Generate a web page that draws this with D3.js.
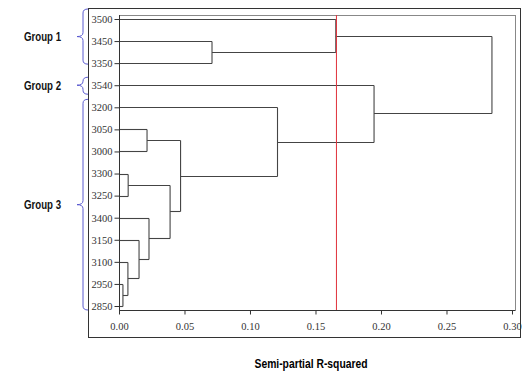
<!DOCTYPE html>
<html>
<head>
<meta charset="utf-8">
<script src="https://cdn.jsdelivr.net/npm/d3@7"></script>
<style>
  body { margin: 0; background: #fff; }
</style>
</head>
<body>
<div id="chart"></div>
<script>
// leaf order, top to bottom
const leaves = ["3500", "3450", "3350", "3540", "3200", "3050", "3000",
  "3300", "3250", "3400", "3150", "3100", "2950", "2850"];
// merges: [childA, childB, height]; "m<i>" refers to merge i
const merges = [
  ["2950", "2850", 0.003],
  ["3300", "3250", 0.007],
  ["3100", "m0", 0.0068],
  ["3150", "m2", 0.0153],
  ["3050", "3000", 0.0214],
  ["3400", "m3", 0.0229],
  ["m1", "m5", 0.039],
  ["m4", "m6", 0.047],
  ["3450", "3350", 0.071],
  ["3200", "m7", 0.121],
  ["3500", "m8", 0.1655],
  ["3540", "m9", 0.1947],
  ["m10", "m11", 0.2847],
];
const xTicks = [0, 0.05, 0.1, 0.15, 0.2, 0.25, 0.3];
const cutoff = 0.166;
const groups = [
  { name: "Group 1", first: "3500", last: "3350" },
  { name: "Group 2", first: "3540", last: "3540" },
  { name: "Group 3", first: "3200", last: "2850" },
];

const W = 527, H = 375;
const plot = { left: 119, right: 515, top: 15, bottom: 310 };
const serif = '"Liberation Serif", "DejaVu Serif", serif';
const bold = '"Liberation Sans", Arial, sans-serif';

const svg = d3.select("#chart").append("svg")
  .attr("width", W).attr("height", H);

const x = d3.scaleLinear().domain([0, 0.3023]).range([plot.left, plot.right]);
const y = d3.scalePoint().domain(leaves).range([19, 306]);

// outer frame
svg.append("rect")
  .attr("x", 88.5).attr("y", 8.5).attr("width", 432).attr("height", 329)
  .attr("fill", "none").attr("stroke", "#333").attr("stroke-width", 1);

// inner frame
svg.append("rect")
  .attr("x", plot.left + 0.5).attr("y", plot.top + 0.5)
  .attr("width", plot.right - plot.left).attr("height", plot.bottom - plot.top)
  .attr("fill", "none").attr("stroke", "#888");

// node positions
const pos = {};
leaves.forEach((l) => (pos[l] = { x: 0, y: y(l) }));
const lines = [];
merges.forEach((m, i) => {
  const a = pos[m[0]], b = pos[m[1]], h = m[2];
  lines.push([a.x, a.y, h, a.y], [b.x, b.y, h, b.y], [h, a.y, h, b.y]);
  pos["m" + i] = { x: h, y: (a.y + b.y) / 2 };
});

svg.append("g").selectAll("line").data(lines).join("line")
  .attr("x1", (d) => x(d[0])).attr("y1", (d) => Math.round(d[1]) + 0.5)
  .attr("x2", (d) => x(d[2])).attr("y2", (d) => Math.round(d[3]) + 0.5)
  .attr("stroke", "#444").attr("stroke-width", 1.1);

// cutoff line
svg.append("line")
  .attr("x1", x(cutoff)).attr("x2", x(cutoff))
  .attr("y1", plot.top).attr("y2", plot.bottom)
  .attr("stroke", "#e0303a").attr("stroke-width", 1);

// axes
const yAxis = svg.append("g")
  .attr("transform", `translate(${plot.left + 0.5},0)`)
  .call(d3.axisLeft(y).tickSize(5).tickPadding(2));
yAxis.select(".domain").attr("d", `M0,${plot.top}V${plot.bottom}`).attr("stroke", "#333");
yAxis.selectAll(".tick line").attr("stroke", "#333");

const xAxis = svg.append("g")
  .attr("transform", `translate(0,${plot.bottom + 0.5})`)
  .call(d3.axisBottom(x).tickValues(xTicks).tickFormat(d3.format(".2f")).tickSize(4).tickPadding(8));
xAxis.select(".domain").attr("d", `M${plot.left},0H${plot.right}`).attr("stroke", "#333");
xAxis.selectAll(".tick line").attr("stroke", "#333");

svg.selectAll(".tick text")
  .attr("font-family", serif).attr("font-size", 10.5).attr("fill", "#333");

// axis title
svg.append("text")
  .attr("x", 311).attr("y", 368).attr("text-anchor", "middle")
  .attr("font-family", bold).attr("font-weight", "bold").attr("font-size", 12.5)
  .attr("textLength", 113).attr("lengthAdjust", "spacingAndGlyphs")
  .text("Semi-partial R-squared");

// group braces and labels
const bx = 83, tip = 77, ex = 88;
groups.forEach((g) => {
  const y0 = g.first === leaves[0] ? 9 : y(g.first) - 8;
  const y1 = g.last === leaves[leaves.length - 1] ? plot.bottom : y(g.last) + (g.first === g.last ? 9 : 1);
  const ym = g.first === g.last ? y(g.first) : (y0 + y1) / 2;
  const r = Math.min(4, (y1 - y0) / 4);
  const p = `M${ex},${y0}Q${bx},${y0} ${bx},${y0 + r}L${bx},${ym - r}Q${bx},${ym} ${tip},${ym}` +
    `Q${bx},${ym} ${bx},${ym + r}L${bx},${y1 - r}Q${bx},${y1} ${ex},${y1}`;
  svg.append("path").attr("d", p).attr("fill", "none")
    .attr("stroke", "#5a5ad0").attr("stroke-width", 1);
  svg.append("text")
    .attr("x", 24).attr("y", ym).attr("dy", "0.36em")
    .attr("font-family", bold).attr("font-weight", "bold").attr("font-size", 12.5)
    .attr("textLength", 37).attr("lengthAdjust", "spacingAndGlyphs")
    .attr("fill", "#111")
    .text(g.name);
});
</script>
</body>
</html>
